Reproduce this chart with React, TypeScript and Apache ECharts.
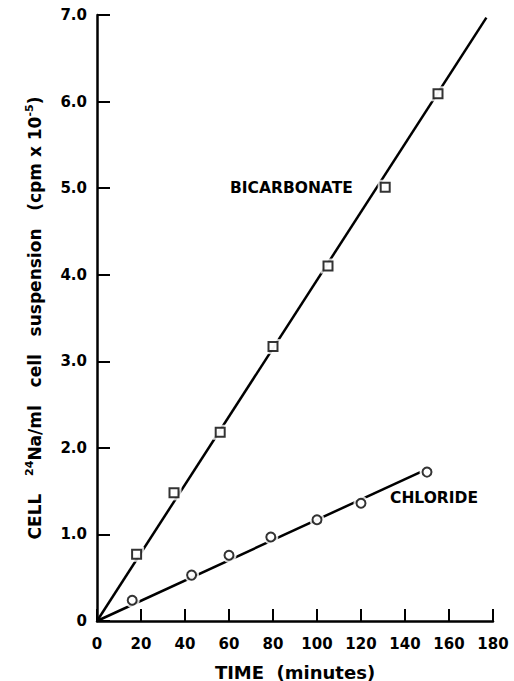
import React, { useEffect, useRef } from "react";
import * as echarts from "echarts";

const xTicks = [0, 20, 40, 60, 80, 100, 120, 140, 160, 180];
const yTicks = [0, 1, 2, 3, 4, 5, 6, 7];

const bicarbTime = [18, 35, 56, 80, 105, 131, 155];
const bicarbValues = [0.77, 1.48, 2.18, 3.17, 4.1, 5.01, 6.09];
const bicarbFitTime = [0, 177];
const bicarbFitValues = [0, 6.97];

const chlorideTime = [16, 43, 60, 79, 100, 120, 150];
const chlorideValues = [0.24, 0.53, 0.76, 0.97, 1.17, 1.36, 1.72];
const chlorideFitTime = [0, 147];
const chlorideFitValues = [0, 1.72];

const FONT = "DejaVu Sans";

export default function App() {
  const ref = useRef<HTMLDivElement>(null);
  useEffect(() => {
    if (!ref.current) return;
    const chart = echarts.init(ref.current, undefined, { renderer: "svg" });
    const pair = (xs: number[], ys: number[]) => xs.map((x, i) => [x, ys[i]]);
    const markerSeries = (name: string, data: number[][], symbol: string, size: number) => [
      {
        name: name + "-halo",
        type: "scatter",
        data,
        symbol,
        symbolSize: size + 6,
        itemStyle: { color: "#fff", borderWidth: 0 },
        z: 3,
        silent: true,
      },
      {
        name,
        type: "scatter",
        data,
        symbol,
        symbolSize: size,
        itemStyle: { color: "#fff", borderColor: "#000", borderWidth: 2 },
        z: 4,
      },
    ];
    chart.setOption({
      animation: false,
      backgroundColor: "#fff",
      grid: { left: 97, top: 15, width: 396, height: 606, outerBoundsMode: "none", containLabel: false },
      xAxis: {
        type: "value",
        min: xTicks[0],
        max: xTicks[xTicks.length - 1],
        interval: 20,
        name: "TIME  (minutes)",
        nameLocation: "middle",
        nameGap: 42,
        nameTextStyle: { fontFamily: FONT, fontWeight: "bold", fontSize: 18, color: "#000" },
        axisLine: { lineStyle: { color: "#000", width: 2.5 } },
        axisTick: { inside: true, length: 12, lineStyle: { color: "#000", width: 2 } },
        axisLabel: { fontFamily: FONT, fontWeight: "bold", fontSize: 15, color: "#000", margin: 15 },
        splitLine: { show: false },
      },
      yAxis: {
        type: "value",
        min: yTicks[0],
        max: yTicks[yTicks.length - 1],
        interval: 1,
        name: "{b|CELL   }{s|24}{b|Na/ml   cell   suspension   (cpm x 10}{s|-5}{b|)}",
        nameLocation: "middle",
        nameGap: 51,
        nameTextStyle: {
          fontFamily: FONT,
          fontWeight: "bold",
          fontSize: 17,
          color: "#000",
          rich: {
            b: { fontFamily: FONT, fontWeight: "bold", fontSize: 17, lineHeight: 22, color: "#000" },
            s: { fontFamily: FONT, fontWeight: "bold", fontSize: 11, lineHeight: 11, verticalAlign: "top", color: "#000" },
          },
        },
        axisLine: { show: true, lineStyle: { color: "#000", width: 2.5 } },
        axisTick: { show: true, inside: true, length: 13, lineStyle: { color: "#000", width: 2 } },
        axisLabel: {
          fontFamily: FONT,
          fontWeight: "bold",
          fontSize: 15,
          color: "#000",
          margin: 10,
          formatter: (v: number) => (v === 0 ? "0" : v.toFixed(1)),
        },
        splitLine: { show: false },
      },
      graphic: [
        {
          type: "text",
          left: 230,
          top: 180,
          style: { text: "BICARBONATE", fontFamily: FONT, fontWeight: "bold", fontSize: 15.5, fill: "#000" },
        },
        {
          type: "text",
          left: 390,
          top: 490,
          style: { text: "CHLORIDE", fontFamily: FONT, fontWeight: "bold", fontSize: 15.5, fill: "#000" },
        },
      ],
      series: [
        {
          name: "Bicarbonate fit",
          type: "line",
          data: pair(bicarbFitTime, bicarbFitValues),
          showSymbol: false,
          lineStyle: { color: "#000", width: 2.5 },
          z: 2,
        },
        {
          name: "Chloride fit",
          type: "line",
          data: pair(chlorideFitTime, chlorideFitValues),
          showSymbol: false,
          lineStyle: { color: "#000", width: 2.5 },
          z: 2,
        },
        ...markerSeries("Bicarbonate", pair(bicarbTime, bicarbValues), "rect", 9),
        ...markerSeries("Chloride", pair(chlorideTime, chlorideValues), "circle", 9),
      ],
    });
    return () => chart.dispose();
  }, []);
  return (
    <div
      ref={ref}
      style={{ position: "absolute", left: 0, top: 0, width: 514, height: 681 }}
    />
  );
}
